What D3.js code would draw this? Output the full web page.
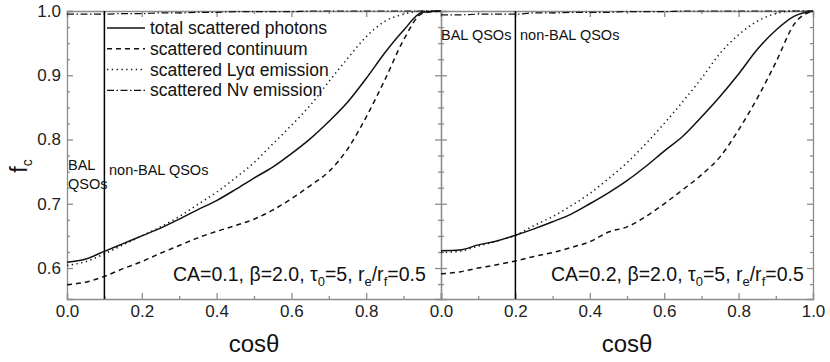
<!DOCTYPE html>
<html>
<head>
<meta charset="utf-8">
<script src="https://cdn.jsdelivr.net/npm/d3@7"></script>
<style>
  body { margin: 0; background: #fff; }
  svg { font-family: Arial, "Liberation Sans", sans-serif; }
  .axis path, .axis line { stroke: #8c8c8c; stroke-width: 1.3; }
  .axis text { fill: #222; font-size: 17px; }
</style>
</head>
<body>
<div id="chart"></div>
<script>
// cos(theta) grid shared by all curves
const cosGrid = [0, 0.05, 0.1, 0.15, 0.2, 0.25, 0.3, 0.35, 0.4, 0.45, 0.5,
                 0.55, 0.6, 0.65, 0.7, 0.75, 0.8, 0.85, 0.9, 0.95, 1.0];

// panel 1: CA=0.1
const totalA = [0.609, 0.614, 0.626, 0.638, 0.650, 0.662, 0.676, 0.691, 0.705, 0.722, 0.740,
                0.757, 0.778, 0.801, 0.828, 0.858, 0.895, 0.935, 0.970, 0.998, 1.0];
const contA  = [0.574, 0.578, 0.587, 0.599, 0.610, 0.623, 0.635, 0.647, 0.657, 0.666, 0.676,
                0.690, 0.708, 0.728, 0.750, 0.785, 0.835, 0.893, 0.955, 0.996, 1.0];
const lyaA   = [0.604, 0.610, 0.622, 0.636, 0.650, 0.664, 0.680, 0.699, 0.718, 0.740, 0.764,
                0.793, 0.822, 0.853, 0.890, 0.926, 0.960, 0.984, 0.995, 1.0, 1.0];
const nvA    = [0.995, 0.995, 0.995, 0.996, 0.996, 0.997, 0.997, 0.998, 0.998, 0.999, 0.999,
                0.999, 0.999, 1.0, 1.0, 1.0, 1.0, 1.0, 1.0, 1.0, 1.0];

// panel 2: CA=0.2
const totalB = [0.627, 0.628, 0.636, 0.642, 0.651, 0.661, 0.672, 0.684, 0.700, 0.717, 0.736,
                0.758, 0.782, 0.805, 0.835, 0.867, 0.902, 0.940, 0.970, 0.992, 1.0];
const contB  = [0.591, 0.594, 0.600, 0.605, 0.611, 0.618, 0.624, 0.632, 0.641, 0.656, 0.664,
                0.680, 0.700, 0.722, 0.745, 0.773, 0.815, 0.864, 0.920, 0.980, 1.0];
const lyaB   = [0.624, 0.626, 0.634, 0.642, 0.651, 0.666, 0.680, 0.697, 0.716, 0.739, 0.764,
                0.793, 0.825, 0.859, 0.895, 0.934, 0.963, 0.984, 0.996, 1.0, 1.0];
const nvB    = [0.994, 0.994, 0.995, 0.995, 0.995, 0.997, 0.997, 0.998, 0.998, 0.998, 0.999,
                0.999, 0.999, 1.0, 1.0, 1.0, 1.0, 1.0, 1.0, 1.0, 1.0];

const legendLabels = ['total scattered photons', 'scattered continuum',
                      'scattered Ly\u03b1 emission', 'scattered Nv emission'];
const xTicks = [0, 0.2, 0.4, 0.6, 0.8, 1.0];
const yTicks = [0.6, 0.7, 0.8, 0.9, 1.0];

const styles = [
    { dash: null, w: 1.5 },
    { dash: '5,4', w: 1.5 },
    { dash: '1.3,3.5', w: 1.5 },
    { dash: '7,2.5,1.5,2.5', w: 1.2 }
];

const panels = [
    { x0: 67, x1: 441, ca: '0.1', split: 0.1, series: [totalA, contA, lyaA, nvA], yLabels: true, lastLabel: false },
    { x0: 441, x1: 813, ca: '0.2', split: 0.2, series: [totalB, contB, lyaB, nvB], yLabels: false, lastLabel: true }
];

const W = 830, H = 362;
const plotTop = 11, plotBottom = 299;

const svg = d3.select('#chart').append('svg')
    .attr('width', W)
    .attr('height', H);

svg.append('rect').attr('width', W).attr('height', H).attr('fill', '#fff');

const y = d3.scaleLinear().domain([0.5518, 1.0]).range([plotBottom, plotTop]);
const yMinor = d3.range(0.575, 1.0001, 0.025).filter(v => Math.abs(v * 10 - Math.round(v * 10)) > 0.01);
const xMinor = [0.1, 0.3, 0.5, 0.7, 0.9];

panels.forEach(function(p, pi) {
    const x = d3.scaleLinear().domain([0, 1]).range([p.x0, p.x1]);
    const g = svg.append('g');

    // minor ticks (inward, all sides)
    g.append('g').attr('class', 'axis')
        .attr('transform', 'translate(0,' + plotBottom + ')')
        .call(d3.axisBottom(x).tickValues(xMinor).tickSize(-3).tickFormat(''))
        .call(a => a.select('.domain').remove());
    g.append('g').attr('class', 'axis')
        .attr('transform', 'translate(0,' + plotTop + ')')
        .call(d3.axisTop(x).tickValues(xMinor).tickSize(-3).tickFormat(''))
        .call(a => a.select('.domain').remove());
    g.append('g').attr('class', 'axis')
        .attr('transform', 'translate(' + p.x0 + ',0)')
        .call(d3.axisLeft(y).tickValues(yMinor).tickSize(-3).tickFormat(''))
        .call(a => a.select('.domain').remove());
    g.append('g').attr('class', 'axis')
        .attr('transform', 'translate(' + p.x1 + ',0)')
        .call(d3.axisRight(y).tickValues(yMinor).tickSize(-3).tickFormat(''))
        .call(a => a.select('.domain').remove());

    // major ticks
    g.append('g').attr('class', 'axis')
        .attr('transform', 'translate(0,' + plotBottom + ')')
        .call(d3.axisBottom(x).tickValues(xTicks).tickSize(-6).tickPadding(6)
            .tickFormat(d => (d === 1 && !p.lastLabel) ? '' : d3.format('.1f')(d)));
    g.append('g').attr('class', 'axis')
        .attr('transform', 'translate(0,' + plotTop + ')')
        .call(d3.axisTop(x).tickValues(xTicks).tickSize(-6).tickFormat(''));
    g.append('g').attr('class', 'axis')
        .attr('transform', 'translate(' + p.x0 + ',0)')
        .call(d3.axisLeft(y).tickValues(yTicks).tickSize(-6).tickPadding(p.yLabels ? 6 : 0)
            .tickFormat(d => p.yLabels ? d3.format('.1f')(d) : ''));
    g.append('g').attr('class', 'axis')
        .attr('transform', 'translate(' + p.x1 + ',0)')
        .call(d3.axisRight(y).tickValues(yTicks).tickSize(-6).tickFormat(''));

    // curves
    const line = d3.line()
        .x((d, i) => x(cosGrid[i]))
        .y(d => y(d))
        .curve(d3.curveMonotoneX);

    p.series.forEach(function(s, si) {
        g.append('path')
            .datum(s)
            .attr('fill', 'none')
            .attr('stroke', '#111')
            .attr('stroke-width', styles[si].w)
            .attr('stroke-dasharray', styles[si].dash)
            .attr('d', line);
    });

    // BAL / non-BAL divider
    g.append('line')
        .attr('x1', x(p.split)).attr('x2', x(p.split))
        .attr('y1', plotTop).attr('y2', plotBottom)
        .attr('stroke', '#000').attr('stroke-width', 1.5);

    // parameter annotation
    const ann = g.append('text')
        .attr('x', pi === 0 ? 173 : 551)
        .attr('y', 281)
        .attr('font-size', 19.5)
        .attr('fill', '#111');
    ann.append('tspan').text('CA=' + p.ca + ', \u03b2=2.0, \u03c4');
    ann.append('tspan').attr('font-size', 13).attr('dy', 5).text('0');
    ann.append('tspan').attr('dy', -5).text('=5, r');
    ann.append('tspan').attr('font-size', 13).attr('dy', 5).text('e');
    ann.append('tspan').attr('dy', -5).text('/r');
    ann.append('tspan').attr('font-size', 13).attr('dy', 5).text('f');
    ann.append('tspan').attr('dy', -5).text('=0.5');

    // x title
    g.append('text')
        .attr('x', (p.x0 + p.x1) / 2)
        .attr('y', 352)
        .attr('text-anchor', 'middle')
        .attr('font-size', 24)
        .attr('fill', '#111')
        .text('cos\u03b8');
});

// region labels
const lab = svg.append('g').attr('font-size', 14.5).attr('fill', '#111');
lab.append('text').attr('x', 68).attr('y', 170).text('BAL');
lab.append('text').attr('x', 68).attr('y', 189).text('QSOs');
lab.append('text').attr('x', 109).attr('y', 175).text('non-BAL QSOs');
lab.append('text').attr('x', 441).attr('y', 40).text('BAL QSOs');
lab.append('text').attr('x', 520).attr('y', 40).text('non-BAL QSOs');

// legend
const leg = svg.append('g');
legendLabels.forEach(function(t, i) {
    const ly = 28 + i * 20.8;
    leg.append('line')
        .attr('x1', 107).attr('x2', 145)
        .attr('y1', ly).attr('y2', ly)
        .attr('stroke', '#111')
        .attr('stroke-width', styles[i].w)
        .attr('stroke-dasharray', styles[i].dash);
    leg.append('text')
        .attr('x', 150).attr('y', ly + 6)
        .attr('font-size', 17.5)
        .attr('fill', '#111')
        .text(t);
});

// y title f_c
const yt = svg.append('text')
    .attr('transform', 'translate(27,166) rotate(-90)')
    .attr('text-anchor', 'middle')
    .attr('font-size', 23)
    .attr('fill', '#111');
yt.append('tspan').text('f');
yt.append('tspan').attr('font-size', 14).attr('dy', 5).text('c');
</script>
</body>
</html>
